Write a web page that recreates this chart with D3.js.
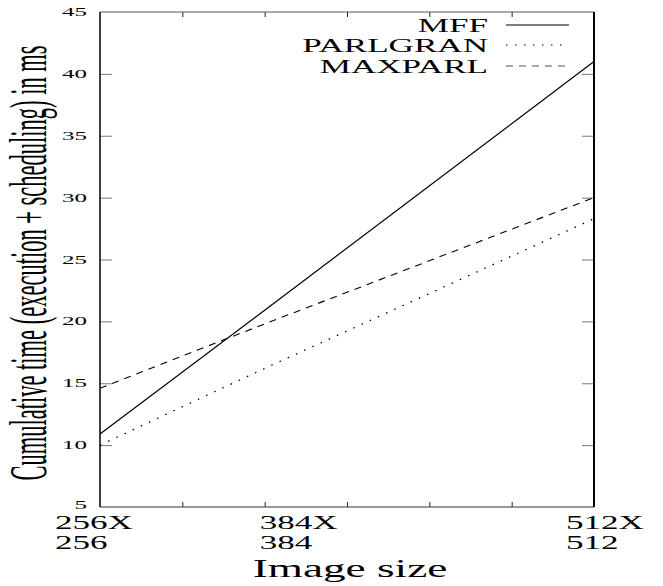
<!DOCTYPE html>
<html>
<head>
<meta charset="utf-8">
<script src="https://cdn.jsdelivr.net/npm/d3@7"></script>
<style>
	body { margin: 0; background: #fff; }
	svg { display: block; }
</style>
</head>
<body>
<svg id="chart" width="663" height="586"></svg>
<script>
// image sizes on the x axis, placed at 1, 2, 4
const sizes = [1, 2, 4];
const sizeLabels = [["256X", "256"], ["384X", "384"], ["512X", "512"]];
const seriesNames = ["MFF", "PARLGRAN", "MAXPARL"];
const mffTimes = [10.9, 20.9, 41.0];
const parlgranTimes = [10.0, 16.2, 28.3];
const maxparlTimes = [14.6, 19.8, 30.0];
const yTicks = [5, 10, 15, 20, 25, 30, 35, 40, 45];
const xTicks = [1, 1.5, 2, 2.5, 3, 3.5, 4];

const serif = "'Liberation Serif', 'DejaVu Serif', 'Times New Roman', serif";
const svg = d3.select("#chart");
const plotLeft = 100, plotRight = 594, plotTop = 12, plotBottom = 507;

const x = d3.scaleLinear().domain([1, 4]).range([plotLeft, plotRight]);
const y = d3.scaleLinear().domain([5, 45]).range([plotBottom, plotTop]);

// gnuplot output was stretched sideways, so text gets a horizontal scale
function stretchText(sel, px, py, str, size, sx, anchor) {
	return sel.append("text")
		.attr("transform", `translate(${px},${py}) scale(${sx},1)`)
		.attr("text-anchor", anchor || "start")
		.attr("font-family", serif)
		.attr("font-size", size)
		.attr("fill", "#000")
		.text(str);
}

// ticks, inward on every side
svg.append("g")
	.attr("transform", `translate(${plotLeft},0)`)
	.call(d3.axisLeft(y).tickValues(yTicks.slice(1, -1)).tickSizeInner(-12).tickSizeOuter(0).tickFormat(""))
	.call(g => g.select(".domain").remove())
	.call(g => g.selectAll(".tick line").attr("stroke", "#777"));
svg.append("g")
	.attr("transform", `translate(${plotRight},0)`)
	.call(d3.axisRight(y).tickValues(yTicks.slice(1, -1)).tickSizeInner(-12).tickSizeOuter(0).tickFormat(""))
	.call(g => g.select(".domain").remove())
	.call(g => g.selectAll(".tick line").attr("stroke", "#777"));
svg.append("g")
	.attr("transform", `translate(0,${plotBottom})`)
	.call(d3.axisBottom(x).tickValues(xTicks.slice(1, -1)).tickSizeInner(-5).tickSizeOuter(0).tickFormat(""))
	.call(g => g.select(".domain").remove())
	.call(g => g.selectAll(".tick line").attr("stroke", "#222"));
svg.append("g")
	.attr("transform", `translate(0,${plotTop})`)
	.call(d3.axisTop(x).tickValues(xTicks.slice(1, -1)).tickSizeInner(-5).tickSizeOuter(0).tickFormat(""))
	.call(g => g.select(".domain").remove())
	.call(g => g.selectAll(".tick line").attr("stroke", "#222"));

// frame
svg.append("line").attr("x1", plotLeft).attr("x2", plotRight).attr("y1", plotTop).attr("y2", plotTop)
	.attr("stroke", "#555").attr("stroke-width", 1);
svg.append("line").attr("x1", plotLeft).attr("x2", plotRight).attr("y1", plotBottom).attr("y2", plotBottom)
	.attr("stroke", "#333").attr("stroke-width", 1.2);
svg.append("line").attr("x1", plotLeft).attr("x2", plotLeft).attr("y1", plotTop).attr("y2", plotBottom)
	.attr("stroke", "#000").attr("stroke-width", 1.5);
svg.append("line").attr("x1", plotRight).attr("x2", plotRight).attr("y1", plotTop).attr("y2", plotBottom)
	.attr("stroke", "#000").attr("stroke-width", 2);

// y tick labels
yTicks.forEach(t => {
	stretchText(svg, 87, y(t) + (t === 5 ? 2 : 4), String(t), 12.5, 2.0, "end");
});

// x tick labels, hand placed in the original
const labelShift = [-45, -5, -28];
sizes.forEach((s, i) => {
	stretchText(svg, x(s) + labelShift[i], 529, sizeLabels[i][0], 18, 1.95);
	stretchText(svg, x(s) + labelShift[i], 549, sizeLabels[i][1], 18, 1.95);
});

// axis titles
stretchText(svg, 350, 577, "Image size", 26, 1.74, "middle");
svg.append("text")
	.attr("transform", "translate(46,263) scale(2.35,1) rotate(-90)")
	.attr("text-anchor", "middle")
	.attr("font-family", serif)
	.attr("font-size", 22.5)
	.attr("fill", "#000")
	.text("Cumulative time (execution + scheduling) in ms");

// series
const series = [
	{name: seriesNames[0], values: mffTimes, dash: null, width: 1.2},
	{name: seriesNames[1], values: parlgranTimes, dash: "1.5,7.5", width: 1.3},
	{name: seriesNames[2], values: maxparlTimes, dash: "7,6", width: 1.1}
];

const line = d3.line()
	.x((d, i) => x(sizes[i]))
	.y(d => y(d));

svg.append("g").selectAll("path")
	.data(series)
	.join("path")
	.attr("d", d => line(d.values))
	.attr("fill", "none")
	.attr("stroke", "#000")
	.attr("stroke-width", d => d.width)
	.attr("stroke-dasharray", d => d.dash);

// legend
const legendRows = [25, 45, 66];
series.forEach((s, i) => {
	stretchText(svg, 488, legendRows[i] + 7, s.name, 18, 1.95, "end");
	svg.append("line")
		.attr("x1", 506).attr("x2", 569)
		.attr("y1", legendRows[i]).attr("y2", legendRows[i])
		.attr("stroke", i === 0 ? "#000" : "#555")
		.attr("stroke-width", s.width)
		.attr("stroke-dasharray", s.dash);
});
</script>
</body>
</html>
